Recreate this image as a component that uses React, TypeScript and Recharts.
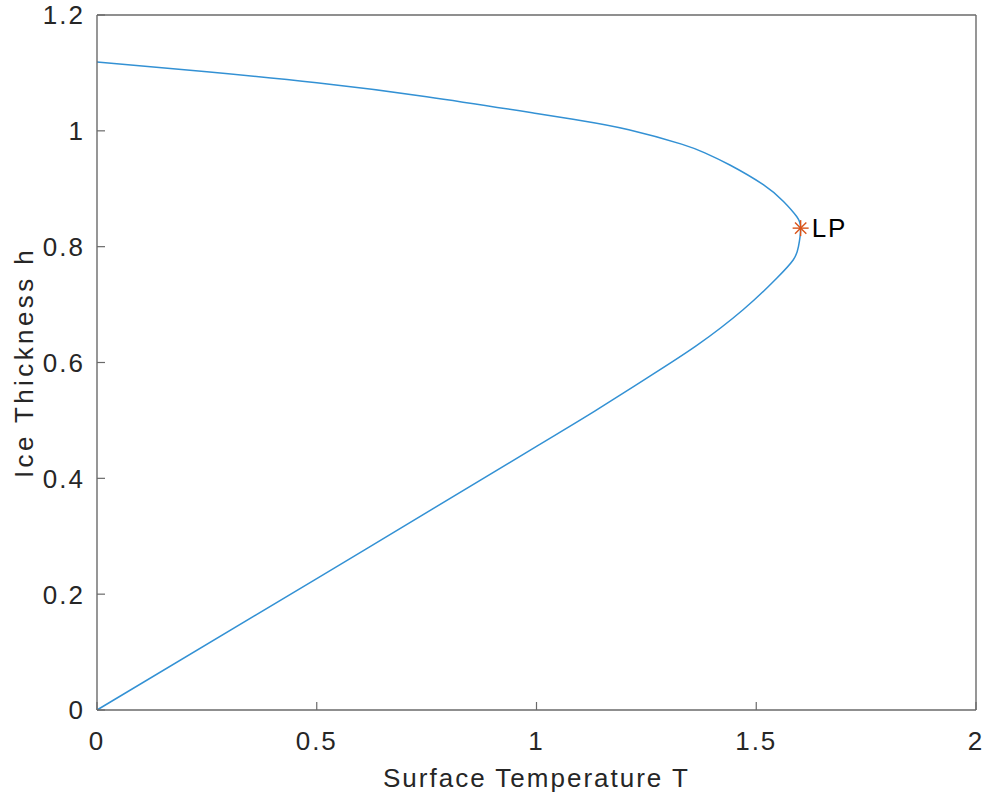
import React from "react";
import { ComposedChart, Line, Scatter, XAxis, YAxis } from "recharts";

// traced branch of the fold curve, upper branch first, then down to the origin
const tempT = [
  0, 0.25, 0.5, 0.75, 1.0, 1.1, 1.21, 1.33, 1.383, 1.44, 1.516, 1.562, 1.592,
  1.601, 1.596, 1.584, 1.546, 1.47, 1.364, 1.251, 1.137, 1.0, 0.5, 0,
];
const thickH = [
  1.119, 1.102, 1.083, 1.059, 1.03, 1.018, 1.002, 0.977, 0.962, 0.941, 0.907,
  0.878, 0.852, 0.832, 0.8, 0.777, 0.745, 0.691, 0.629, 0.573, 0.518, 0.455,
  0.227, 0,
];
const lpT = [1.601];
const lpH = [0.832];
const lpName = ["LP"];

const xTicks = [0, 0.5, 1, 1.5, 2];
const yTicks = [0, 0.2, 0.4, 0.6, 0.8, 1, 1.2];

const curve = tempT.map((T, i) => ({ T, h: thickH[i] }));
const limitPoints = lpT.map((T, i) => ({ T, h: lpH[i], name: lpName[i] }));

const W = 987;
const H = 796;
const FONT = "'Liberation Sans', Arial, Helvetica, sans-serif";
const AXIS = "#6a6a6a";
const TEXT = "#262626";
const TICK_LEN = 8;
const FS = 26;
const LS = 2;

const BottomTick = (props: any) => {
  const { x, y, payload } = props;
  return (
    <g>
      <line x1={x} x2={x} y1={y} y2={y - TICK_LEN} stroke={AXIS} strokeWidth={1.2} />
      <text
        x={x}
        y={y + 40}
        textAnchor="middle"
        fill={TEXT}
        fontSize={FS}
        fontFamily={FONT}
        letterSpacing={LS}
      >
        {String(payload.value)}
      </text>
    </g>
  );
};

const TopTick = (props: any) => {
  const { x, y } = props;
  return <line x1={x} x2={x} y1={y} y2={y + TICK_LEN} stroke={AXIS} strokeWidth={1.2} />;
};

const LeftTick = (props: any) => {
  const { x, y, payload } = props;
  return (
    <g>
      <line x1={x} x2={x + TICK_LEN} y1={y} y2={y} stroke={AXIS} strokeWidth={1.2} />
      <text
        x={x - 12}
        y={y}
        dy="0.36em"
        textAnchor="end"
        fill={TEXT}
        fontSize={FS}
        fontFamily={FONT}
        letterSpacing={LS}
      >
        {String(payload.value)}
      </text>
    </g>
  );
};

const RightTick = (props: any) => {
  const { x, y } = props;
  return <line x1={x} x2={x - TICK_LEN} y1={y} y2={y} stroke={AXIS} strokeWidth={1.2} />;
};

const StarMark = (props: any) => {
  const { cx, cy, payload } = props;
  if (cx == null || cy == null) return null;
  const r = 8;
  const d = r * Math.SQRT1_2;
  const c = "#D95319";
  return (
    <g>
      <line x1={cx - r} x2={cx + r} y1={cy} y2={cy} stroke={c} strokeWidth={1.4} />
      <line x1={cx} x2={cx} y1={cy - r} y2={cy + r} stroke={c} strokeWidth={1.4} />
      <line x1={cx - d} x2={cx + d} y1={cy - d} y2={cy + d} stroke={c} strokeWidth={1.4} />
      <line x1={cx - d} x2={cx + d} y1={cy + d} y2={cy - d} stroke={c} strokeWidth={1.4} />
      <text
        x={cx + 11}
        y={cy}
        dy="0.36em"
        fill="#000"
        fontSize={FS}
        fontFamily={FONT}
        letterSpacing={LS}
      >
        {payload.name}
      </text>
    </g>
  );
};

const XTitle = (props: any) => {
  const { viewBox } = props;
  const { x, width } = viewBox;
  return (
    <text
      x={x + width / 2}
      y={787}
      textAnchor="middle"
      fill={TEXT}
      fontSize={FS}
      fontFamily={FONT}
      letterSpacing={LS}
    >
      Surface Temperature T
    </text>
  );
};

const YTitle = (props: any) => {
  const { viewBox } = props;
  const { y, height } = viewBox;
  const cx = 33;
  const cy = y + height / 2;
  return (
    <text
      x={cx}
      y={cy}
      transform={`rotate(-90, ${cx}, ${cy})`}
      textAnchor="middle"
      fill={TEXT}
      fontSize={FS}
      fontFamily={FONT}
      letterSpacing={3.4}
    >
      Ice Thickness h
    </text>
  );
};

export default function App() {
  return (
    <div style={{ position: "absolute", left: 0, top: 0, width: W, height: H, background: "#fff" }}>
      <ComposedChart width={W} height={H} margin={{ top: 0, right: 0, bottom: 0, left: 0 }}>
        <XAxis
          xAxisId="b"
          dataKey="T"
          type="number"
          orientation="bottom"
          domain={[0, 2]}
          ticks={xTicks}
          height={86}
          tickSize={0}
          tickMargin={0}
          tickLine={false}
          tick={<BottomTick />}
          axisLine={{ stroke: AXIS, strokeWidth: 1.4 }}
          interval={0}
          label={<XTitle />}
        />
        <XAxis
          xAxisId="t"
          dataKey="T"
          type="number"
          orientation="top"
          domain={[0, 2]}
          ticks={xTicks}
          height={15}
          tickSize={0}
          tickMargin={0}
          tickLine={false}
          tick={<TopTick />}
          axisLine={{ stroke: AXIS, strokeWidth: 1.4 }}
          interval={0}
        />
        <YAxis
          yAxisId="l"
          dataKey="h"
          type="number"
          orientation="left"
          domain={[0, 1.2]}
          ticks={yTicks}
          width={97}
          tickSize={0}
          tickMargin={0}
          tickLine={false}
          tick={<LeftTick />}
          axisLine={{ stroke: AXIS, strokeWidth: 1.4 }}
          interval={0}
          label={<YTitle />}
        />
        <YAxis
          yAxisId="r"
          dataKey="h"
          type="number"
          orientation="right"
          domain={[0, 1.2]}
          ticks={yTicks}
          width={11}
          tickSize={0}
          tickMargin={0}
          tickLine={false}
          tick={<RightTick />}
          axisLine={{ stroke: AXIS, strokeWidth: 1.4 }}
          interval={0}
        />
        <Line
          xAxisId="b"
          yAxisId="l"
          data={curve}
          dataKey="h"
          type="natural"
          stroke="#3391d4"
          strokeWidth={1.5}
          dot={false}
          activeDot={false}
          isAnimationActive={false}
        />
        <Scatter
          xAxisId="b"
          yAxisId="l"
          data={limitPoints}
          dataKey="h"
          shape={<StarMark />}
          isAnimationActive={false}
        />
      </ComposedChart>
    </div>
  );
}
